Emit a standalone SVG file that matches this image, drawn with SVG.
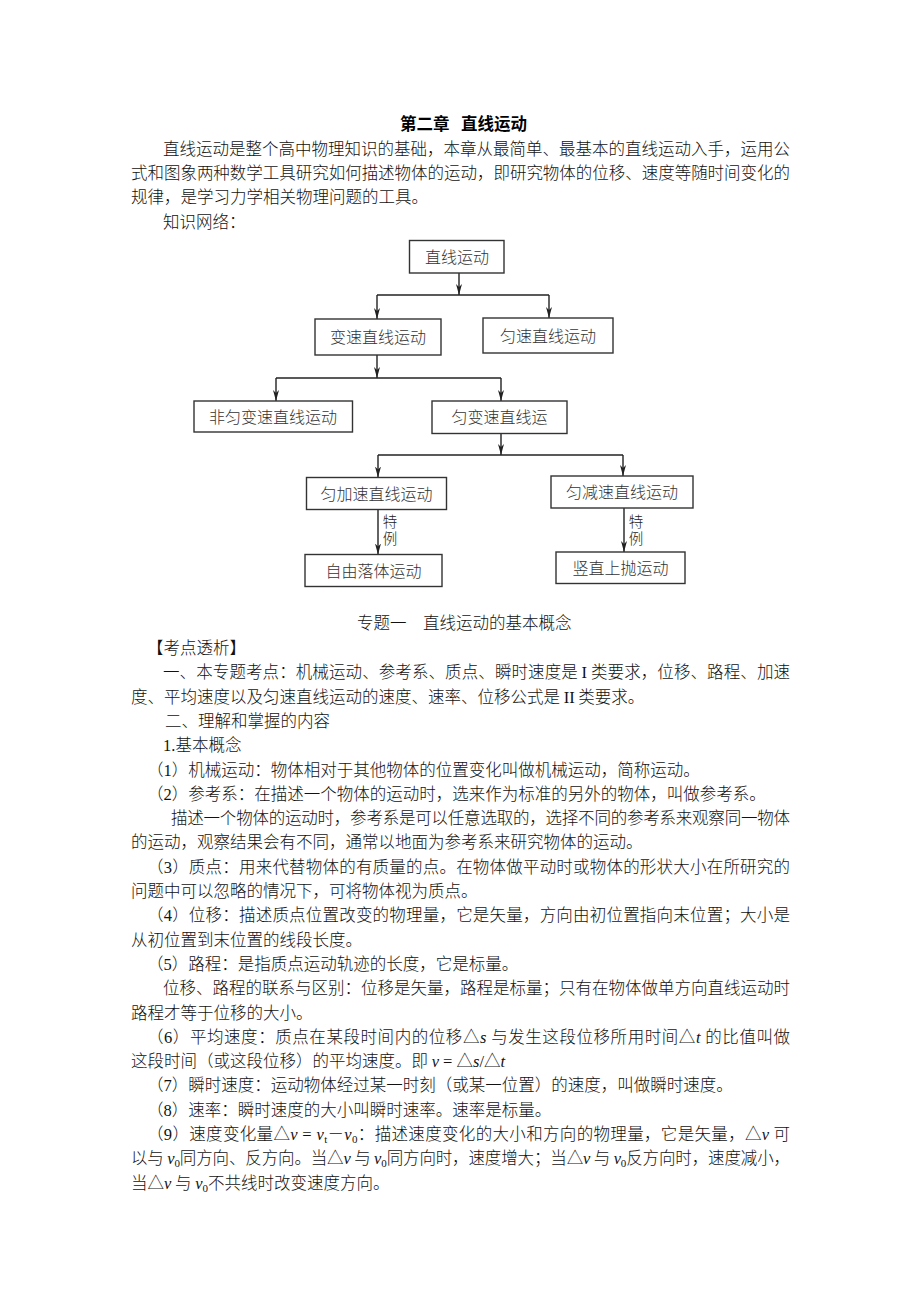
<svg xmlns="http://www.w3.org/2000/svg" width="920" height="1302" viewBox="0 0 920 1302">
<defs>
<style>
.t{font-family:"Noto Sans CJK SC","Noto Sans CJK JP",sans-serif;font-size:16.5px;fill:#111;font-weight:300}
.h{font-family:"Noto Sans CJK SC",sans-serif;font-size:16.5px;fill:#000;font-weight:bold}
.l{font-family:"Liberation Serif",serif}
.i{font-family:"Liberation Serif",serif;font-style:italic}
.bx{fill:#fff;stroke:#333;stroke-width:1.4}
.bt{font-family:"Noto Sans CJK SC",sans-serif;font-size:16px;fill:#333;text-anchor:middle;font-weight:300}
.lb{font-family:"Noto Sans CJK SC",sans-serif;font-size:14.5px;fill:#222;font-weight:300;writing-mode:vertical-rl;letter-spacing:3px}
.c{fill:none;stroke:#222;stroke-width:1.4}
</style>
<marker id="ah" viewBox="0 0 12 8" refX="11" refY="4" markerWidth="12" markerHeight="8" markerUnits="userSpaceOnUse" orient="auto">
<path d="M0,1 L11,4 L0,7 L3,4 Z" fill="#222"/>
</marker>
</defs>
<rect width="920" height="1302" fill="#fff"/>

<g id="text-top">
<text class="h" x="400" y="130">第二章<tspan x="461">直线运动</tspan></text>
<text class="t" x="163" y="155" textLength="627" lengthAdjust="spacing">直线运动是整个高中物理知识的基础，本章从最简单、最基本的直线运动入手，运用公</text>
<text class="t" x="131" y="179" textLength="659" lengthAdjust="spacing">式和图象两种数学工具研究如何描述物体的运动，即研究物体的位移、速度等随时间变化的</text>
<text class="t" x="131" y="203">规律，是学习力学相关物理问题的工具。</text>
<text class="t" x="163" y="228">知识网络：</text>
</g>

<g id="connectors">
<line class="c" x1="459" y1="273" x2="459" y2="295" marker-end="url(#ah)"/>
<line class="c" x1="377" y1="295" x2="549" y2="295"/>
<line class="c" x1="377" y1="295" x2="377" y2="319" marker-end="url(#ah)"/>
<line class="c" x1="549" y1="295" x2="549" y2="318" marker-end="url(#ah)"/>
<line class="c" x1="377" y1="355" x2="377" y2="378" marker-end="url(#ah)"/>
<line class="c" x1="276" y1="378" x2="501" y2="378"/>
<line class="c" x1="276" y1="378" x2="276" y2="401" marker-end="url(#ah)"/>
<line class="c" x1="501" y1="378" x2="501" y2="401" marker-end="url(#ah)"/>
<line class="c" x1="501" y1="433.5" x2="501" y2="455" marker-end="url(#ah)"/>
<line class="c" x1="378" y1="455" x2="623" y2="455"/>
<line class="c" x1="378" y1="455" x2="378" y2="477.5" marker-end="url(#ah)"/>
<line class="c" x1="623" y1="455" x2="623" y2="476" marker-end="url(#ah)"/>
<line class="c" x1="378" y1="509.5" x2="378" y2="554.5" marker-end="url(#ah)"/>
<line class="c" x1="624" y1="508" x2="624" y2="552" marker-end="url(#ah)"/>
<text class="lb" x="390" y="514">特例</text>
<text class="lb" x="636" y="514">特例</text>
</g>

<g id="n1"><rect class="bx" x="409.5" y="240.5" width="94.5" height="32.5"/><text class="bt" x="457" y="262.5">直线运动</text></g>
<g id="n2"><rect class="bx" x="315" y="319" width="126" height="36"/><text class="bt" x="378" y="343">变速直线运动</text></g>
<g id="n3"><rect class="bx" x="483" y="318" width="130" height="35"/><text class="bt" x="548" y="341.5">匀速直线运动</text></g>
<g id="n4"><rect class="bx" x="194" y="401" width="158.5" height="31"/><text class="bt" x="273" y="422.5">非匀变速直线运动</text></g>
<g id="n5"><rect class="bx" x="432" y="401" width="135" height="32.5"/><text class="bt" x="499.5" y="423">匀变速直线运</text></g>
<g id="n6"><rect class="bx" x="306.5" y="477.5" width="140" height="32"/><text class="bt" x="376.5" y="499.5">匀加速直线运动</text></g>
<g id="n7"><rect class="bx" x="551" y="476" width="142" height="32"/><text class="bt" x="622" y="498">匀减速直线运动</text></g>
<g id="n8"><rect class="bx" x="305" y="554.5" width="137" height="32"/><text class="bt" x="373.5" y="576.5">自由落体运动</text></g>
<g id="n9"><rect class="bx" x="556" y="552" width="129" height="31.5"/><text class="bt" x="620.5" y="573.7">竖直上抛运动</text></g>

<g id="text-body">
<text class="t" x="357" y="629">专题一<tspan x="423">直线运动的基本概念</tspan></text>
<text class="t" x="147" y="654">【考点透析】</text>
<text class="t" x="163" y="678.3" textLength="627" lengthAdjust="spacing">一、本专题考点：机械运动、参考系、质点、瞬时速度是 <tspan class="l">I</tspan> 类要求，位移、路程、加速</text>
<text class="t" x="131" y="702.6">度、平均速度以及匀速直线运动的速度、速率、位移公式是 <tspan class="l">II</tspan> 类要求。</text>
<text class="t" x="165" y="726.9">二、理解和掌握的内容</text>
<text class="t" x="163" y="751.2"><tspan class="l">1.</tspan>基本概念</text>
<text class="t" x="147" y="775.5">（<tspan class="l">1</tspan>）机械运动：物体相对于其他物体的位置变化叫做机械运动，简称运动。</text>
<text class="t" x="147" y="799.8">（<tspan class="l">2</tspan>）参考系：在描述一个物体的运动时，选来作为标准的另外的物体，叫做参考系。</text>
<text class="t" x="171" y="824.1" textLength="619" lengthAdjust="spacing">描述一个物体的运动时，参考系是可以任意选取的，选择不同的参考系来观察同一物体</text>
<text class="t" x="131" y="848.4">的运动，观察结果会有不同，通常以地面为参考系来研究物体的运动。</text>
<text class="t" x="147" y="872.7" textLength="643" lengthAdjust="spacing">（<tspan class="l">3</tspan>）质点：用来代替物体的有质量的点。在物体做平动时或物体的形状大小在所研究的</text>
<text class="t" x="131" y="897">问题中可以忽略的情况下，可将物体视为质点。</text>
<text class="t" x="147" y="921.3" textLength="643" lengthAdjust="spacing">（<tspan class="l">4</tspan>）位移：描述质点位置改变的物理量，它是矢量，方向由初位置指向末位置；大小是</text>
<text class="t" x="131" y="945.6">从初位置到末位置的线段长度。</text>
<text class="t" x="147" y="969.9">（<tspan class="l">5</tspan>）路程：是指质点运动轨迹的长度，它是标量。</text>
<text class="t" x="163" y="994.2" textLength="627" lengthAdjust="spacing">位移、路程的联系与区别：位移是矢量，路程是标量；只有在物体做单方向直线运动时</text>
<text class="t" x="131" y="1018.5">路程才等于位移的大小。</text>
<text class="t" x="147" y="1042.8" textLength="643" lengthAdjust="spacing">（<tspan class="l">6</tspan>）平均速度：质点在某段时间内的位移△<tspan class="i">s</tspan> 与发生这段位移所用时间△<tspan class="i">t</tspan> 的比值叫做</text>
<text class="t" x="131" y="1067.1">这段时间（或这段位移）的平均速度。即 <tspan class="i">v</tspan><tspan class="l"> = </tspan>△<tspan class="i">s</tspan><tspan class="l">/</tspan>△<tspan class="i">t</tspan></text>
<text class="t" x="147" y="1091.4">（<tspan class="l">7</tspan>）瞬时速度：运动物体经过某一时刻（或某一位置）的速度，叫做瞬时速度。</text>
<text class="t" x="147" y="1115.7">（<tspan class="l">8</tspan>）速率：瞬时速度的大小叫瞬时速率。速率是标量。</text>
<text class="t" x="147" y="1140" textLength="643" lengthAdjust="spacing">（<tspan class="l">9</tspan>）速度变化量△<tspan class="i">v</tspan><tspan class="l"> = </tspan><tspan class="i">v</tspan><tspan class="l" font-size="11" dy="3">t</tspan><tspan dy="-3">－</tspan><tspan class="i">v</tspan><tspan class="l" font-size="11" dy="3">0</tspan><tspan dy="-3">：描述速度变化的大小和方向的物理量，它是矢量，△</tspan><tspan class="i">v</tspan> 可</text>
<text class="t" x="131" y="1164.3" textLength="659" lengthAdjust="spacing">以与 <tspan class="i">v</tspan><tspan class="l" font-size="11" dy="3">0</tspan><tspan dy="-3">同方向、反方向。当△</tspan><tspan class="i">v</tspan> 与 <tspan class="i">v</tspan><tspan class="l" font-size="11" dy="3">0</tspan><tspan dy="-3">同方向时，速度增大；当△</tspan><tspan class="i">v</tspan> 与 <tspan class="i">v</tspan><tspan class="l" font-size="11" dy="3">0</tspan><tspan dy="-3">反方向时，速度减小，</tspan></text>
<text class="t" x="131" y="1188.6">当△<tspan class="i">v</tspan> 与 <tspan class="i">v</tspan><tspan class="l" font-size="11" dy="3">0</tspan><tspan dy="-3">不共线时改变速度方向。</tspan></text>
</g>
</svg>
